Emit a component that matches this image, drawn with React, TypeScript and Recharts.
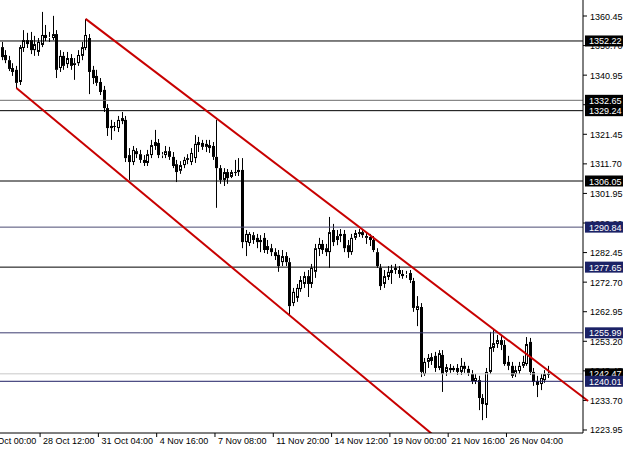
import { Bar, ComposedChart, ReferenceLine, XAxis, YAxis } from "recharts";

// H4 bars, oldest first
const opens = [
  1350.2, 1347.6, 1345.9, 1343.3, 1342.7, 1338.7, 1349.9, 1352.5, 1352.5, 1349.2,
  1348.6, 1350.9, 1354.2, 1353.2, 1353.2, 1354.5, 1343.3, 1347.3, 1344.6, 1346.6,
  1344.3, 1344.9, 1347.3, 1349.9, 1353.2, 1342.7, 1340.7, 1338.7, 1336.1, 1330.1,
  1323.5, 1324.2, 1323.5, 1325.8, 1326.2, 1314.6, 1312.3, 1315.9, 1314.9, 1313.0,
  1312.0, 1314.6, 1317.6, 1318.6, 1314.6, 1314.6, 1315.9, 1314.0, 1311.6, 1309.4,
  1311.3, 1313.0, 1312.3, 1313.6, 1317.9, 1318.6, 1317.3, 1317.9, 1317.6, 1314.0,
  1310.3, 1306.4, 1309.0, 1307.4, 1309.0, 1309.0, 1309.7, 1285.9, 1285.6, 1288.2,
  1287.3, 1285.9, 1287.3, 1283.3, 1283.9, 1282.6, 1281.7, 1279.3, 1281.3, 1279.3,
  1265.8, 1267.5, 1270.4, 1272.1, 1274.7, 1272.1, 1276.1, 1283.6, 1285.3, 1283.9,
  1282.6, 1289.9, 1286.6, 1287.9, 1288.6, 1284.9, 1282.6, 1287.3, 1288.6, 1289.2,
  1287.9, 1287.6, 1286.6, 1282.6, 1277.4, 1272.1, 1274.4, 1275.7, 1276.7, 1276.7,
  1275.4, 1275.1, 1275.7, 1273.1, 1263.5, 1264.5, 1242.4, 1246.4, 1248.0, 1248.4,
  1244.4, 1248.7, 1243.1, 1244.4, 1243.7, 1244.4, 1243.1, 1245.1, 1244.1, 1242.4,
  1240.1, 1240.4, 1234.5, 1232.2, 1243.1, 1251.0, 1252.3, 1253.6, 1252.0, 1246.4,
  1245.1, 1242.4, 1243.4, 1245.1, 1245.7, 1253.0, 1243.1, 1240.1, 1239.1, 1240.4,
  1242.1,
];
const highs = [
  1351.9, 1349.2, 1347.3, 1344.9, 1344.0, 1350.9, 1355.8, 1354.9, 1355.2, 1353.9,
  1353.2, 1361.8, 1357.5, 1355.2, 1360.5, 1355.8, 1349.2, 1348.6, 1348.6, 1347.9,
  1346.6, 1349.2, 1351.9, 1359.5, 1354.5, 1344.0, 1342.7, 1340.0, 1337.4, 1331.4,
  1326.2, 1325.5, 1327.5, 1328.8, 1327.5, 1316.9, 1317.6, 1316.9, 1316.3, 1314.6,
  1316.3, 1319.6, 1322.9, 1319.9, 1315.6, 1317.6, 1317.3, 1315.6, 1313.0, 1312.6,
  1314.0, 1314.9, 1316.9, 1321.2, 1320.6, 1319.6, 1319.6, 1319.6, 1318.9, 1326.2,
  1311.3, 1310.3, 1310.0, 1309.7, 1313.0, 1313.6, 1313.6, 1289.9, 1289.2, 1289.2,
  1288.6, 1288.2, 1288.9, 1286.6, 1285.3, 1283.9, 1283.3, 1283.3, 1282.6, 1280.7,
  1270.8, 1272.1, 1274.7, 1276.1, 1276.7, 1278.7, 1285.3, 1287.3, 1286.6, 1285.3,
  1294.2, 1291.9, 1289.9, 1290.2, 1289.9, 1286.6, 1288.6, 1289.9, 1290.2, 1289.9,
  1288.9, 1288.6, 1287.9, 1283.9, 1278.7, 1276.7, 1278.0, 1278.4, 1278.7, 1278.0,
  1276.7, 1276.4, 1276.7, 1274.1, 1268.1, 1265.8, 1247.7, 1249.0, 1249.3, 1249.7,
  1250.3, 1250.3, 1245.7, 1245.7, 1245.1, 1245.7, 1247.7, 1246.4, 1245.1, 1243.7,
  1242.4, 1241.8, 1235.8, 1244.4, 1256.3, 1256.9, 1255.3, 1254.9, 1253.6, 1248.4,
  1246.4, 1245.1, 1246.4, 1248.4, 1254.6, 1254.3, 1244.4, 1241.8, 1242.4, 1243.7,
  1245.1,
];
const lows = [
  1345.9, 1344.9, 1342.3, 1340.7, 1336.7, 1337.7, 1348.6, 1349.9, 1347.9, 1347.3,
  1347.3, 1350.2, 1352.2, 1351.9, 1352.5, 1340.0, 1342.0, 1342.7, 1343.3, 1342.7,
  1339.4, 1344.0, 1345.9, 1349.2, 1334.7, 1338.0, 1337.4, 1334.4, 1328.8, 1320.9,
  1319.6, 1322.5, 1322.2, 1324.8, 1312.3, 1306.4, 1311.3, 1313.6, 1312.0, 1311.0,
  1311.0, 1313.6, 1316.3, 1313.6, 1313.6, 1313.6, 1313.0, 1310.3, 1305.7, 1308.4,
  1310.3, 1311.6, 1311.3, 1312.0, 1315.6, 1316.3, 1315.6, 1315.3, 1313.0, 1297.2,
  1305.1, 1304.4, 1305.1, 1307.0, 1307.7, 1307.7, 1283.9, 1281.3, 1284.6, 1285.3,
  1283.9, 1282.6, 1282.3, 1282.0, 1281.3, 1280.0, 1276.1, 1278.0, 1278.0, 1261.9,
  1264.8, 1266.2, 1269.5, 1270.8, 1267.8, 1270.8, 1274.1, 1281.3, 1282.0, 1281.3,
  1277.4, 1284.6, 1284.9, 1285.9, 1282.6, 1280.7, 1281.7, 1286.6, 1287.6, 1287.3,
  1285.3, 1284.6, 1282.6, 1277.4, 1270.1, 1270.8, 1273.4, 1272.1, 1275.4, 1274.1,
  1273.8, 1274.1, 1272.4, 1262.9, 1258.2, 1241.4, 1241.8, 1244.4, 1245.4, 1243.1,
  1243.7, 1236.5, 1241.8, 1242.8, 1243.1, 1242.1, 1242.1, 1242.8, 1241.8, 1239.1,
  1239.1, 1230.5, 1227.2, 1227.9, 1242.4, 1249.7, 1251.0, 1250.3, 1245.1, 1243.7,
  1241.1, 1241.4, 1242.4, 1244.4, 1245.1, 1242.1, 1238.5, 1234.8, 1237.1, 1239.5,
  1241.1,
];
const closes = [
  1346.9, 1345.9, 1343.0, 1342.0, 1338.4, 1350.2, 1352.5, 1351.2, 1349.2, 1351.2,
  1351.9, 1354.2, 1353.2, 1353.5, 1354.5, 1342.7, 1347.3, 1344.0, 1346.6, 1344.0,
  1344.9, 1347.6, 1350.2, 1354.2, 1342.0, 1340.0, 1338.4, 1335.4, 1330.1, 1323.5,
  1324.2, 1323.9, 1326.2, 1326.8, 1313.6, 1312.3, 1316.3, 1314.9, 1313.0, 1312.0,
  1314.9, 1317.9, 1318.9, 1314.6, 1314.8, 1315.9, 1314.0, 1311.0, 1309.0, 1311.3,
  1313.0, 1313.6, 1315.3, 1318.3, 1318.9, 1317.3, 1318.3, 1316.9, 1314.0, 1310.3,
  1306.4, 1309.0, 1307.0, 1309.0, 1308.7, 1309.7, 1285.9, 1288.6, 1288.6, 1286.6,
  1285.9, 1286.6, 1283.3, 1284.6, 1282.6, 1281.3, 1278.0, 1281.3, 1279.3, 1264.8,
  1269.5, 1270.8, 1273.4, 1274.7, 1272.1, 1277.4, 1283.9, 1285.3, 1283.3, 1282.6,
  1289.2, 1285.9, 1287.9, 1288.6, 1283.9, 1282.6, 1287.3, 1288.9, 1289.2, 1288.2,
  1287.3, 1286.6, 1283.3, 1278.0, 1271.4, 1274.7, 1276.1, 1276.7, 1277.4, 1275.4,
  1274.7, 1275.4, 1273.4, 1264.2, 1264.8, 1243.1, 1246.4, 1247.7, 1246.7, 1244.4,
  1249.3, 1242.4, 1244.7, 1243.7, 1244.4, 1243.1, 1245.1, 1244.1, 1242.8, 1240.1,
  1241.1, 1234.5, 1232.5, 1243.1, 1251.3, 1252.6, 1253.6, 1252.0, 1245.7, 1245.1,
  1241.8, 1243.7, 1245.1, 1246.4, 1252.3, 1243.1, 1239.8, 1238.8, 1241.1, 1242.4,
  1242.47,
];

// time labels sit on bar boundaries, every 16 bars
const timeTicks = [-5.5, 10.5, 26.5, 42.5, 58.5, 74.5, 90.5, 106.5, 122.5, 138.5];
const timeLabels = [
  "24 Oct 00:00", "28 Oct 12:00", "31 Oct 04:00", "4 Nov 16:00", "7 Nov 08:00",
  "11 Nov 20:00", "14 Nov 12:00", "19 Nov 00:00", "21 Nov 16:00", "26 Nov 04:00",
];

const priceTicks = [
  1360.45, 1350.7, 1340.95, 1331.2, 1321.45, 1311.7, 1301.95, 1292.2,
  1282.45, 1272.7, 1262.95, 1253.2, 1243.45, 1233.7, 1223.95,
];

const levelPrices = [1352.22, 1332.65, 1329.24, 1306.05, 1290.84, 1277.65, 1255.99, 1242.47, 1240.01];
const levelLineColors = ["#000", "#6e6e6e", "#000", "#000", "#4b4b73", "#000", "#3c3c70", "#c8c8c8", "#1e1e64"];
const levelBoxColors = ["#000", "#000", "#000", "#000", "#1b2266", "#1b2266", "#1b2266", "#000", "#1b2266"];

// channel anchors as [bar index, price]
const upperChannel = [[23, 1359.5], [160.9, 1233.5]];
const lowerChannel = [[4, 1336.7], [121, 1219.7]];

const FONT = "'Liberation Sans', Arial, sans-serif";
const WIDTH = 625;
const HEIGHT = 449;

const data = closes.map((c, i) => ({
  i,
  o: opens[i],
  h: highs[i],
  l: lows[i],
  c,
  range: [lows[i], highs[i]],
}));

function Candle(props: any) {
  const { x, y, width, height } = props;
  const d = props.payload ?? props;
  const { o, h, l, c } = d;
  if (height == null || h === l) return null;
  const k = height / (h - l);
  const toY = (v: number) => y + (h - v) * k;
  const px = Math.round(x + width / 2);
  const wx = px + 0.5;
  const top = Math.min(toY(o), toY(c));
  let bottom = Math.max(toY(o), toY(c));
  if (bottom - top < 1) bottom = top + 1;
  const bull = c >= o;
  return (
    <g>
      <line x1={wx} x2={wx} y1={y} y2={top} stroke="#000" strokeWidth={1} />
      <line x1={wx} x2={wx} y1={bottom} y2={y + height} stroke="#000" strokeWidth={1} />
      {bull ? (
        <rect x={px - 0.5} y={top + 0.5} width={2} height={Math.max(bottom - top - 1, 0)} fill="#fff" stroke="#000" strokeWidth={1} />
      ) : (
        <rect x={px - 1} y={top} width={3} height={bottom - top} fill="#000" />
      )}
    </g>
  );
}

function TimeTick(props: any) {
  const { x, y, payload } = props;
  const idx = timeTicks.indexOf(payload.value);
  return (
    <g>
      <line x1={x} x2={x} y1={y} y2={y + 4} stroke="#000" />
      <text x={x + 3} y={y + 11} fontSize={9} fontFamily={FONT} fill="#000">
        {timeLabels[idx] ?? ""}
      </text>
    </g>
  );
}

// price scale labels are drawn as reference-line labels so the level boxes can cover them
const priceLabel = (price: number) => (props: any) => {
  const vb = props.viewBox ?? {};
  const x = (vb.x ?? 0) + (vb.width ?? 0);
  const y = vb.y ?? 0;
  return (
    <g>
      <line x1={x} x2={x + 4} y1={y} y2={y} stroke="#000" />
      <text x={x + 7} y={y + 3.5} fontSize={9} fontFamily={FONT} fill="#000">
        {price.toFixed(2)}
      </text>
    </g>
  );
};

const levelLabel = (price: number, bg: string) => (props: any) => {
  const vb = props.viewBox ?? {};
  const x = (vb.x ?? 0) + (vb.width ?? 0) + 2;
  const y = vb.y ?? 0;
  return (
    <g>
      <rect x={x} y={y - 5.5} width={38} height={11} fill={bg} />
      <text x={x + 4} y={y + 3.5} fontSize={9} fontFamily={FONT} fill="#fff">
        {price.toFixed(2)}
      </text>
    </g>
  );
};

export default function App() {
  return (
    <div style={{ position: "fixed", left: 0, top: 0, width: WIDTH, height: HEIGHT, background: "#fff" }}>
      <ComposedChart
        width={WIDTH}
        height={HEIGHT}
        data={data}
        margin={{ top: 0, right: 0, bottom: 0, left: 0 }}
      >
        <XAxis
          dataKey="i"
          type="number"
          domain={[-0.5, 159.5]}
          ticks={timeTicks}
          interval={0}
          height={16}
          tickSize={0}
          tickMargin={0}
          tickLine={false}
          axisLine={{ stroke: "#000" }}
          tick={<TimeTick />}
          allowDataOverflow
        />
        <YAxis
          orientation="right"
          type="number"
          domain={[1222.96, 1365.73]}
          ticks={priceTicks}
          width={42}
          tick={false}
          tickLine={false}
          axisLine={{ stroke: "#000" }}
          allowDataOverflow
        />
        {priceTicks.map(p => (
          <ReferenceLine
            key={"t" + p}
            y={p}
            stroke="none"
            strokeOpacity={0}
            ifOverflow="hidden"
            label={priceLabel(p)}
          />
        ))}
        {levelPrices.map((p, k) => (
          <ReferenceLine
            key={p}
            y={p}
            stroke={levelLineColors[k]}
            strokeWidth={1}
            ifOverflow="hidden"
            label={levelLabel(p, levelBoxColors[k])}
          />
        ))}
        <Bar
          dataKey="range"
          barSize={3}
          shape={<Candle />}
          isAnimationActive={false}
        />
        <ReferenceLine
          segment={upperChannel.map(([x, y]) => ({ x, y }))}
          stroke="#c80000"
          strokeWidth={2}
          ifOverflow="visible"
        />
        <ReferenceLine
          segment={lowerChannel.map(([x, y]) => ({ x, y }))}
          stroke="#c80000"
          strokeWidth={2}
          ifOverflow="hidden"
        />
      </ComposedChart>
    </div>
  );
}
